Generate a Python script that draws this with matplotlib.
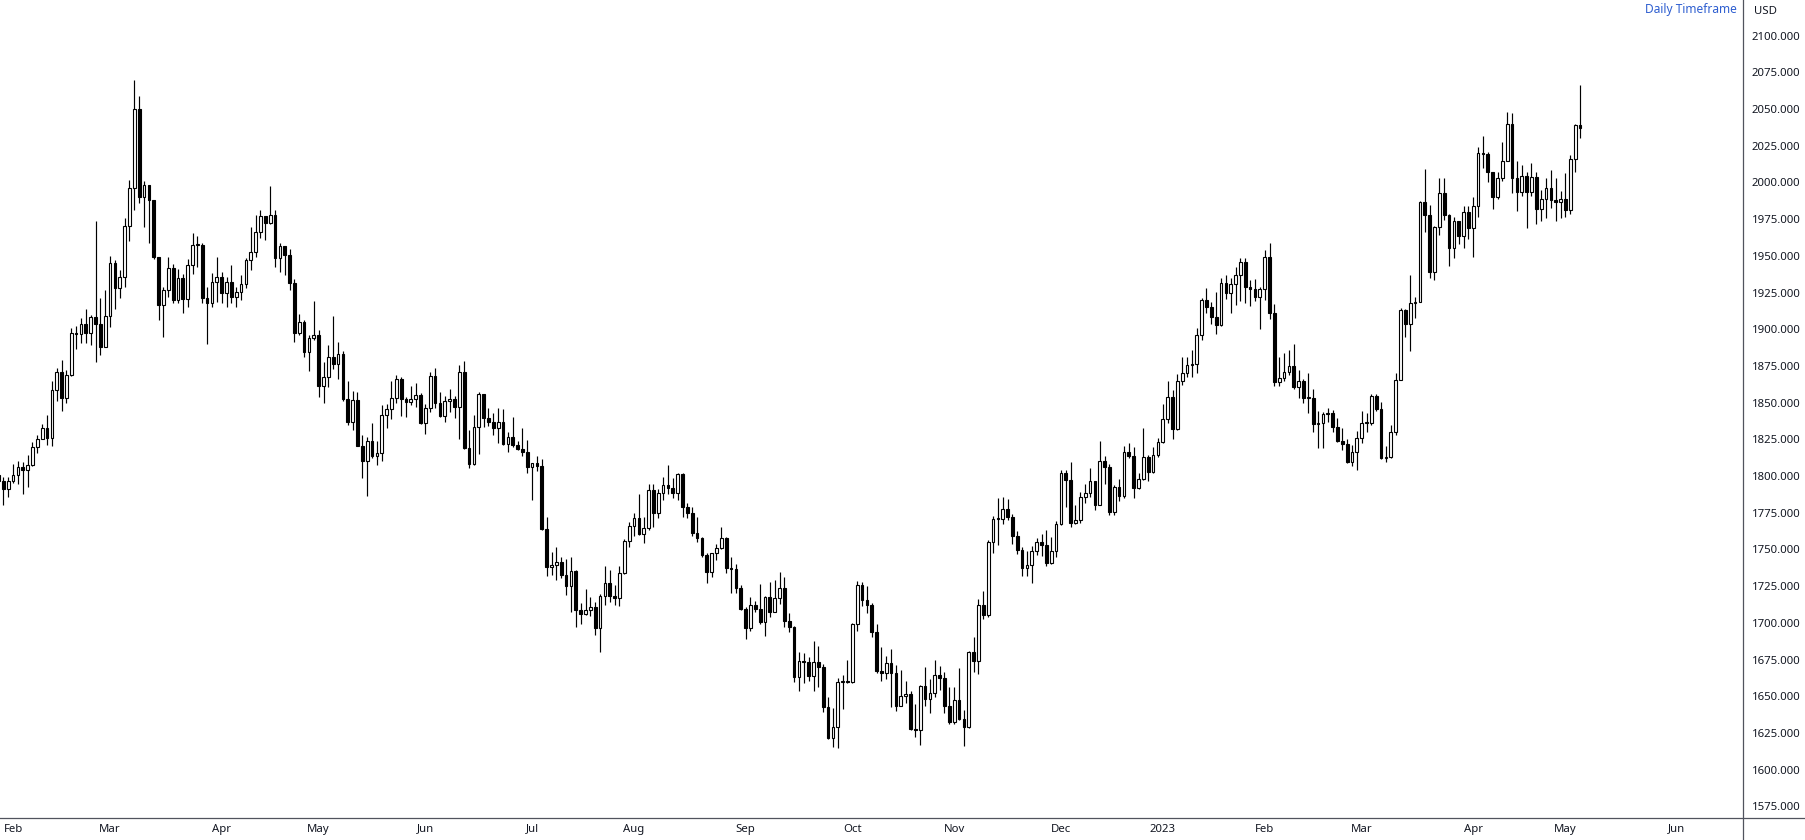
import numpy as np
import pandas as pd
import matplotlib
matplotlib.use("Agg")
import matplotlib.pyplot as plt
from matplotlib.lines import Line2D

plt.rcParams['font.family'] = ['Noto Sans', 'DejaVu Sans']

# ---- data (gold, daily bars) ----
first_open = 1801.0
close = [
    1796.6, 1791.2, 1796.6,
    # Feb 2022
    1800.7, 1806.4, 1804.1, 1807.5, 1820.0, 1825.3, 1832.5, 1825.7, 1858.6, 1870.7,
    1853.0, 1868.9, 1897.3, 1896.8, 1903.6, 1897.3, 1908.6, 1903.4, 1888.2, 1909.1,
    # Mar 2022
    1945.4, 1927.9, 1935.4, 1970.4, 1996.0, 2050.0, 1990.0, 1998.0, 1988.0, 1949.4,
    1916.5, 1926.7, 1941.5, 1919.9, 1934.7, 1920.4, 1943.7, 1957.4, 1957.6, 1921.0,
    1917.6, 1931.9, 1935.8,
    # Apr 2022
    1924.4, 1931.9, 1922.2, 1925.1, 1930.6, 1947.1, 1952.8, 1966.0, 1977.1, 1972.6,
    1977.6, 1948.7, 1956.7, 1950.6, 1931.3, 1897.2, 1905.2, 1884.7, 1893.8, 1896.1,
    # May 2022
    1861.6, 1867.7, 1880.9, 1876.1, 1882.9, 1852.5, 1837.0, 1851.8, 1820.7, 1810.5,
    1824.1, 1813.9, 1815.9, 1841.6, 1845.4, 1853.0, 1866.1, 1852.5, 1850.2, 1852.5,
    1855.2, 1835.9,
    # Jun 2022
    1846.1, 1868.1, 1850.0, 1840.9, 1851.4, 1852.5, 1846.8, 1870.7, 1818.9, 1808.0,
    1833.2, 1855.9, 1839.4, 1837.1, 1832.5, 1837.1, 1821.6, 1826.9, 1821.2, 1818.5,
    1816.6, 1806.4,
    # Jul 2022
    1808.7, 1806.9, 1764.0, 1738.3, 1739.4, 1741.2, 1732.6, 1725.3, 1735.3, 1708.8,
    1705.8, 1708.8, 1710.6, 1696.3, 1718.6, 1727.0, 1718.6, 1716.7, 1733.8, 1756.0,
    1766.0,
    # Aug 2022
    1771.2, 1760.6, 1764.9, 1790.5, 1775.1, 1788.7, 1793.9, 1791.7, 1788.7, 1801.4,
    1778.7, 1775.1, 1761.5, 1757.6, 1746.3, 1734.9, 1747.4, 1750.8, 1757.6, 1737.2,
    1736.5, 1723.5, 1709.5,
    # Sep 2022
    1696.3, 1712.2, 1709.2, 1700.8, 1717.4, 1707.6, 1716.7, 1723.5, 1701.5, 1697.0,
    1663.3, 1674.3, 1673.6, 1663.8, 1673.1, 1670.2, 1642.9, 1621.3, 1628.8, 1659.9,
    1660.6, 1660.0,
    # Oct 2022
    1699.2, 1725.8, 1715.6, 1712.2, 1694.0, 1667.4, 1665.6, 1672.4, 1665.6, 1643.6,
    1650.1, 1651.5, 1627.4, 1627.0, 1657.0, 1647.9, 1652.0, 1664.5, 1662.6, 1643.6,
    1632.6,
    # Nov 2022
    1647.4, 1634.2, 1628.8, 1680.3, 1674.2, 1712.1, 1705.3, 1755.3, 1770.5, 1770.8,
    1777.3, 1772.3, 1759.2, 1749.6, 1737.1, 1739.4, 1749.2, 1755.1, 1753.0, 1741.0,
    1749.2, 1767.3,
    # Dec 2022
    1802.3, 1797.3, 1767.8, 1770.0, 1786.0, 1788.2, 1796.6, 1780.3, 1810.3, 1806.4,
    1775.7, 1792.8, 1786.6, 1816.6, 1813.7, 1791.6, 1797.8, 1812.8, 1803.0, 1814.4,
    1823.0,
    # Jan 2023
    1838.6, 1853.6, 1831.8, 1865.0, 1870.4, 1875.6, 1876.3, 1896.1, 1919.9, 1914.9,
    1908.1, 1902.9, 1931.3, 1924.9, 1930.6, 1936.9, 1945.6, 1928.5, 1927.2, 1922.2,
    1927.2,
    # Feb 2023
    1949.0, 1911.3, 1864.3, 1866.5, 1871.1, 1874.9, 1860.9, 1864.7, 1852.9, 1853.3,
    1835.2, 1835.9, 1842.0, 1842.7, 1833.6, 1823.9, 1821.6, 1809.8, 1816.6, 1825.7,
    # Mar 2023
    1835.9, 1836.2, 1854.5, 1845.7, 1812.5, 1813.2, 1829.8, 1865.4, 1913.1, 1903.3,
    1917.6, 1918.8, 1986.9, 1977.8, 1939.2, 1969.9, 1992.6, 1977.8, 1955.6, 1973.7,
    1963.7, 1980.1, 1968.7,
    # Apr 2023
    1984.2, 2019.8, 2019.6, 2006.9, 1990.3, 2002.8, 2014.6, 2039.6, 2003.3, 1993.7,
    2004.6, 1993.7, 2003.9, 1981.9, 1988.7, 1996.0, 1988.0, 1986.9, 1988.7,
    # May 2023
    1981.2, 2015.8, 2039.1, 2036.9,
]
high = [
    1818.9, 1799.1, 1799.1,
    1808.2, 1810.3, 1809.8, 1814.3, 1823.0, 1828.0, 1835.2, 1841.4, 1864.8, 1873.6,
    1879.1, 1872.3, 1900.7, 1902.2, 1907.9, 1913.8, 1909.7, 1973.8, 1921.5, 1926.8,
    1949.9, 1947.2, 1940.4, 1976.0, 2002.0, 2070.0, 2059.0, 2001.0, 1998.3, 1988.0,
    1949.4, 1929.0, 1949.0, 1944.5, 1940.8, 1937.6, 1947.6, 1965.3, 1963.5, 1958.5,
    1928.5, 1938.0, 1949.0,
    1939.0, 1935.8, 1943.7, 1929.0, 1936.9, 1948.3, 1969.9, 1977.8, 1981.2, 1977.1,
    1997.6, 1981.2, 1958.5, 1957.0, 1955.0, 1934.2, 1910.2, 1906.3, 1896.1, 1919.3,
    1899.5, 1877.9, 1889.3, 1909.0, 1891.5, 1885.2, 1864.8, 1857.9, 1857.5, 1828.0,
    1826.8, 1835.9, 1824.1, 1848.4, 1848.9, 1864.8, 1868.8, 1867.5, 1854.1, 1861.6,
    1863.2, 1856.3,
    1848.9, 1871.1, 1873.8, 1857.1, 1854.8, 1859.3, 1854.8, 1875.7, 1878.4, 1831.4,
    1841.6, 1857.1, 1855.9, 1846.2, 1842.8, 1846.6, 1845.7, 1830.3, 1840.5, 1824.1,
    1833.0, 1824.6,
    1808.7, 1813.7, 1811.6, 1771.9, 1748.5, 1751.9, 1745.1, 1743.5, 1745.1, 1736.0,
    1713.3, 1722.9, 1717.4, 1714.5, 1719.7, 1738.8, 1736.0, 1725.8, 1739.0, 1756.9,
    1769.0,
    1775.1, 1787.8, 1772.4, 1794.6, 1794.6, 1791.0, 1799.6, 1807.6, 1798.5, 1801.9,
    1802.4, 1781.5, 1779.2, 1772.4, 1758.3, 1747.9, 1747.9, 1753.8, 1765.1, 1758.3,
    1744.6, 1740.1, 1725.8,
    1710.6, 1717.4, 1715.1, 1726.5, 1718.3, 1728.1, 1729.2, 1734.9, 1731.5, 1706.5,
    1697.9, 1680.4, 1679.7, 1676.8, 1687.9, 1684.2, 1672.0, 1649.3, 1641.8, 1662.2,
    1664.5, 1674.7,
    1699.7, 1728.7, 1728.1, 1725.1, 1713.3, 1699.2, 1683.8, 1677.4, 1681.9, 1671.3,
    1667.9, 1660.4, 1653.8, 1644.7, 1657.6, 1669.7, 1661.5, 1674.7, 1670.6, 1666.7,
    1656.5,
    1656.5, 1669.0, 1640.6, 1681.0, 1690.6, 1716.2, 1721.9, 1756.4, 1772.8, 1784.8,
    1786.0, 1784.1, 1774.1, 1762.8, 1751.9, 1749.2, 1752.3, 1757.6, 1760.5, 1763.2,
    1758.2, 1769.6,
    1804.1, 1804.1, 1809.8, 1780.3, 1789.4, 1794.6, 1805.3, 1796.6, 1823.9, 1813.7,
    1808.2, 1793.9, 1797.8, 1820.5, 1822.7, 1819.6, 1802.3, 1832.5, 1814.4, 1820.0,
    1825.7,
    1849.1, 1865.0, 1858.6, 1869.5, 1881.3, 1881.3, 1885.8, 1900.6, 1921.0, 1927.9,
    1918.8, 1925.6, 1934.7, 1937.0, 1934.7, 1942.2, 1948.3, 1948.3, 1933.5, 1934.0,
    1928.5,
    1954.0, 1959.0, 1917.2, 1880.8, 1883.6, 1885.8, 1890.0, 1872.2, 1865.9, 1870.4,
    1859.3, 1844.3, 1843.4, 1846.6, 1845.0, 1839.7, 1832.9, 1825.2, 1821.1, 1830.7,
    1844.3, 1842.7, 1855.6, 1855.6, 1850.6, 1820.7, 1834.7, 1869.9, 1914.2, 1913.8,
    1936.9, 1922.2, 1987.5, 2009.2, 1984.6, 1970.3, 2002.8, 2002.8, 1978.3, 1976.7,
    1973.7, 1984.2, 1984.2,
    1990.3, 2024.4, 2031.6, 2021.0, 2006.9, 2006.9, 2027.8, 2047.8, 2047.1, 2014.6,
    2011.9, 2007.3, 2013.0, 2007.3, 1994.9, 2003.3, 2008.5, 2003.3, 1994.2,
    2006.2, 2018.7, 2039.6, 2066.4,
]
low = [
    1780.3, 1780.3, 1786.0,
    1795.1, 1794.6, 1787.8, 1792.3, 1806.9, 1815.5, 1825.3, 1821.2, 1820.7, 1851.4,
    1844.6, 1850.0, 1868.0, 1886.3, 1890.4, 1890.4, 1889.3, 1878.0, 1882.5, 1888.2,
    1901.3, 1913.6, 1921.5, 1929.0, 1960.4, 1981.3, 1986.0, 1970.0, 1958.5, 1948.0,
    1906.3, 1894.9, 1922.0, 1918.0, 1917.6, 1910.8, 1915.4, 1937.6, 1942.6, 1917.6,
    1889.9, 1915.0, 1918.8,
    1917.6, 1915.4, 1917.6, 1914.9, 1919.9, 1927.8, 1940.3, 1949.4, 1962.4, 1960.8,
    1971.7, 1942.6, 1939.2, 1937.0, 1926.7, 1891.1, 1896.1, 1881.3, 1871.6, 1892.7,
    1854.1, 1850.0, 1860.9, 1872.9, 1866.1, 1851.1, 1834.8, 1831.4, 1820.7, 1798.9,
    1786.6, 1812.5, 1807.5, 1810.3, 1832.5, 1838.9, 1849.6, 1841.1, 1840.5, 1848.4,
    1847.3, 1835.2,
    1828.4, 1843.9, 1846.6, 1840.0, 1836.6, 1843.4, 1839.8, 1825.0, 1818.5, 1805.3,
    1807.6, 1815.3, 1833.7, 1834.4, 1828.0, 1822.8, 1821.2, 1816.6, 1820.0, 1817.8,
    1813.9, 1802.3,
    1783.7, 1803.5, 1763.3, 1731.9, 1732.6, 1729.2, 1730.8, 1719.0, 1707.2, 1697.4,
    1699.0, 1705.4, 1704.9, 1691.8, 1680.4, 1712.2, 1714.5, 1712.2, 1711.5, 1733.3,
    1751.9,
    1759.2, 1759.9, 1754.2, 1763.3, 1765.1, 1771.2, 1783.7, 1787.8, 1784.9, 1783.7,
    1772.4, 1771.2, 1759.2, 1755.3, 1745.1, 1727.4, 1731.0, 1742.9, 1750.1, 1734.2,
    1720.1, 1720.6, 1708.8,
    1688.8, 1694.7, 1707.6, 1699.2, 1691.1, 1703.8, 1707.6, 1712.9, 1697.0, 1694.0,
    1659.9, 1653.8, 1659.3, 1660.6, 1653.8, 1656.1, 1639.5, 1620.7, 1615.2, 1614.5,
    1641.1, 1659.0,
    1659.3, 1694.7, 1711.5, 1706.5, 1690.6, 1665.6, 1660.6, 1661.5, 1642.4, 1640.2,
    1643.3, 1645.6, 1627.0, 1622.4, 1616.8, 1643.3, 1638.3, 1649.7, 1654.2, 1638.3,
    1631.1,
    1631.1, 1633.8, 1616.1, 1628.1, 1666.3, 1665.2, 1702.4, 1704.2, 1747.3, 1753.0,
    1767.3, 1770.0, 1753.7, 1746.9, 1731.9, 1731.9, 1727.4, 1746.2, 1745.5, 1738.7,
    1740.1, 1745.1,
    1767.0, 1778.7, 1765.5, 1767.3, 1768.2, 1781.4, 1785.5, 1776.9, 1780.3, 1794.6,
    1773.5, 1773.5, 1783.2, 1784.8, 1812.1, 1784.8, 1791.0, 1797.3, 1796.9, 1801.9,
    1812.8,
    1822.3, 1835.9, 1825.0, 1831.4, 1862.0, 1867.7, 1867.2, 1869.9, 1892.7, 1910.8,
    1903.6, 1896.7, 1902.2, 1920.4, 1911.3, 1916.5, 1919.5, 1918.1, 1915.8, 1919.5,
    1900.2,
    1919.9, 1906.7, 1861.3, 1861.3, 1865.0, 1868.8, 1859.0, 1852.9, 1850.0, 1843.3,
    1830.2, 1818.9, 1818.9, 1837.0, 1829.7, 1822.9, 1817.7, 1808.6, 1807.0, 1804.1,
    1822.3, 1830.2, 1834.7, 1844.3, 1811.6, 1809.8, 1812.1, 1827.9, 1865.4, 1894.9,
    1885.2, 1907.4, 1918.8, 1966.0, 1935.1, 1933.5, 1964.2, 1974.4, 1943.3, 1948.3,
    1957.8, 1955.1, 1961.5,
    1949.4, 1976.7, 2009.6, 2000.5, 1981.7, 1988.7, 2001.0, 2014.6, 1992.6, 1980.5,
    1991.0, 1969.2, 1991.0, 1971.5, 1973.7, 1976.0, 1982.8, 1973.7, 1976.0,
    1976.7, 1978.3, 2007.3, 2030.1,
]
holidays = ['2022-04-15', '2022-12-26', '2023-01-02', '2023-04-07']
month_labels = ['Feb', 'Mar', 'Apr', 'May', 'Jun', 'Jul', 'Aug', 'Sep', 'Oct', 'Nov',
                'Dec', '2023', 'Feb', 'Mar', 'Apr', 'May', 'Jun']
price_ticks = list(range(1575, 2101, 25))

# ---- bar dates (trading days of the feed) ----
dates = pd.bdate_range('2022-01-27', '2023-05-04')
dates = dates[~dates.isin(pd.to_datetime(holidays))]
future = pd.bdate_range('2023-05-05', '2023-07-31')
all_dates = dates.append(future)

n = len(close)
x = np.arange(n)
c = np.array(close)
o = np.array([first_open] + close[:-1])
h = np.maximum(np.array(high), np.maximum(o, c))
l = np.minimum(np.array(low), np.minimum(o, c))

# first bar of every month from Feb 2022 to Jun 2023
periods = all_dates.to_period('M')
month_pos = []
seen = set()
for i, p in enumerate(periods):
    if i == 0:
        seen.add(p)
        continue
    if p not in seen:
        seen.add(p)
        month_pos.append(i)
month_pos = month_pos[:len(month_labels)]

W, H = 1806, 840
fig = plt.figure(figsize=(W / 100, H / 100), dpi=100)
ax = fig.add_axes([0, 22 / H, 1743.5 / W, 818 / H])

ax.vlines(x, l, h, color='black', linewidth=0.85, zorder=1)
up = c >= o
body = np.maximum(np.abs(c - o), 0.7)
ax.bar(x, body, bottom=np.minimum(o, c), width=0.56,
       color=np.where(up, 'white', 'black'), edgecolor='black',
       linewidth=0.8, zorder=2)

ax.set_xlim(0.31, 359.7)
ax.set_ylim(1567.1, 2124.3)

for s in ax.spines.values():
    s.set_visible(False)

ax.yaxis.tick_right()
ax.set_yticks(price_ticks)
ax.set_yticklabels([f'{v:.3f}' for v in price_ticks])
ax.tick_params(axis='y', length=0, pad=6, labelsize=8.2, labelcolor='#131722')

ax.set_xticks(month_pos)
ax.set_xticklabels(month_labels)
ax.tick_params(axis='x', length=0, pad=4, labelsize=8.2, labelcolor='#131722')
for t in ax.get_xticklabels():
    if t.get_text() == '2023':
        t.set_fontweight('bold')

# price scale / time scale borders
fig.add_artist(Line2D([1743.5 / W, 1743.5 / W], [0, 1], color='#50535e', linewidth=0.9))
fig.add_artist(Line2D([0, 1], [22 / H, 22 / H], color='#50535e', linewidth=0.9))

fig.text(1737 / W, 1 - 10 / H, 'Daily Timeframe', ha='right', va='center',
         fontsize=8.6, color='#2f5fd0')
fig.text(1754 / W, 1 - 12 / H, 'USD', ha='left', va='center',
         fontsize=8.2, color='#131722')

fig.savefig('out.png', dpi=100, facecolor='white')
